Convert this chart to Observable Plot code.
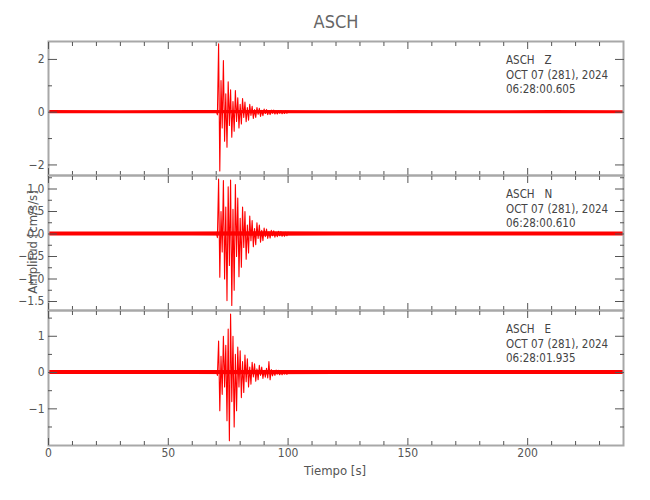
<!DOCTYPE html>
<html><head><meta charset="utf-8">
<script src="https://cdn.jsdelivr.net/npm/d3@7"></script>
<script src="https://cdn.jsdelivr.net/npm/@observablehq/plot@0.6"></script>
<style>
body{margin:0;background:#fff;}
#chart{position:relative;width:650px;height:500px;font-family:"DejaVu Sans Condensed","DejaVu Sans",sans-serif;font-stretch:condensed;color:#555;}
#chart svg{position:absolute;left:0;overflow:visible;}
#chart svg text{font-stretch:condensed;}
.lbl{position:absolute;white-space:nowrap;line-height:1;}
</style></head><body><div id="chart"></div>
<script>
// ---- data ----
const title = "ASCH";
const xLabel = "Tiempo [s]";
const yLabel = "Amplitud [cm/s/s]";
const timeMajor = [0, 50, 100, 150, 200];
const timeMinor = [10, 20, 30, 40, 60, 70, 80, 90, 110, 120, 130, 140, 160, 170, 180, 190, 210, 220, 230];

const components = ["Z", "N", "E"];
const dateText = "OCT 07 (281), 2024";
const startTimes = ["06:28:00.605", "06:28:00.610", "06:28:01.935"];

const yDomainZ = [-2.40, 2.68];
const yDomainN = [-1.70, 1.30];
const yDomainE = [-2.01, 1.71];
const yMajorZ = [-2, 0, 2];
const yMinorZ = [-1, 1];
const yMajorN = [-1.5, -1, -0.5, 0, 0.5, 1];
const yMinorN = [-1.25, -0.75, -0.25, 0.25, 0.75, 1.25];
const yMajorE = [-1, 0, 1];
const yMinorE = [-1.5, -0.5, 0.5, 1.5];

// background noise band (s, cm/s/s)
const noiseT   = [0, 30, 60, 90, 120, 150, 180, 210, 240];
const noiseHiZ = [0.06, 0.055, 0.06, 0.06, 0.055, 0.06, 0.055, 0.06, 0.055];
const noiseLoZ = [-0.055, -0.06, -0.055, -0.06, -0.055, -0.055, -0.06, -0.055, -0.055];
const noiseHiN = [0.045, 0.045, 0.045, 0.05, 0.045, 0.045, 0.045, 0.045, 0.045];
const noiseLoN = [-0.045, -0.045, -0.045, -0.05, -0.045, -0.045, -0.045, -0.045, -0.045];
const noiseHiE = [0.055, 0.055, 0.055, 0.06, 0.055, 0.055, 0.055, 0.055, 0.055];
const noiseLoE = [-0.055, -0.055, -0.055, -0.06, -0.055, -0.055, -0.055, -0.055, -0.055];

// event trace samples (s)
const eventT = [70.0,70.5,71.0,71.5,72.0,72.5,73.0,73.5,74.0,74.5,75.0,75.5,76.0,76.5,77.0,77.5,78.0,78.5,79.0,79.5,
  80.0,80.5,81.0,81.5,82.0,82.5,83.0,83.5,84.0,84.5,85.0,85.5,86.0,86.5,87.0,87.5,88.0,88.5,89.0,89.5,
  90.0,90.5,91.0,91.5,92.0,92.5,93.0,93.5,94.0,94.5,95.0,95.5,96.0,96.5,97.0,97.5,98.0,98.5,99.0,99.5,100.0];
const traceZ = [0.04,-0.10,2.59,-2.23,1.20,-0.60,1.96,-1.10,0.70,-1.33,1.15,-0.50,0.85,-0.95,0.40,-0.72,0.82,-0.35,0.55,-0.60,
  0.30,-0.45,0.52,-0.20,0.38,-0.36,0.18,-0.30,0.30,-0.12,0.22,-0.24,0.10,-0.20,0.18,-0.08,0.15,-0.16,0.07,-0.13,
  0.12,-0.05,0.10,-0.09,0.05,-0.09,0.08,-0.04,0.08,-0.07,0.04,-0.07,0.06,-0.04,0.06,-0.06,0.03,-0.05,0.05,-0.04,0.04];
const traceN = [0.04,-0.08,1.22,-0.96,0.50,-0.40,1.19,-1.00,0.60,-1.48,1.05,-0.70,1.20,-1.59,0.55,-1.25,1.10,-0.50,0.80,-0.95,
  0.35,-0.74,0.60,-0.30,0.50,-0.56,0.20,-0.42,0.40,-0.15,0.30,-0.28,0.12,-0.24,0.25,-0.10,0.20,-0.18,0.08,-0.15,
  0.13,-0.06,0.11,-0.10,0.05,-0.09,0.08,-0.04,0.07,-0.07,0.04,-0.06,0.06,-0.04,0.05,-0.05,0.03,-0.05,0.04,-0.04,0.04];
const traceE = [0.04,-0.08,0.87,-1.05,0.45,-0.60,1.00,-0.40,0.75,-1.33,1.20,-1.88,1.61,-0.80,1.00,-1.50,0.50,-1.05,0.70,-0.40,
  0.60,-0.69,0.30,-0.55,0.48,-0.25,0.38,-0.40,0.15,-0.32,0.28,-0.12,0.24,-0.24,0.10,-0.20,0.20,-0.08,0.15,-0.16,
  0.06,-0.13,0.12,-0.15,0.30,-0.20,0.08,-0.09,0.05,-0.08,0.07,-0.04,0.06,-0.06,0.04,-0.06,0.05,-0.04,0.05,-0.05,0.04];

// ---- drawing ----
const FONT = '"DejaVu Sans Condensed","DejaVu Sans",sans-serif';
const chart = document.getElementById("chart");
const AX = "#555", FR = "#a8a8a8";

function panel({trace, hi, lo, domain, major, minor, fmt, top, plotH, marginBottom, labels}) {
  const W = 650, mT = 5;
  const ev = eventT.map((t, i) => ({t, v: trace[i]}));
  const nz = noiseT.map((t, i) => ({t, hi: hi[i], lo: lo[i]}));
  const svg = Plot.plot({
    width: W, height: mT + plotH + marginBottom,
    marginLeft: 48, marginRight: 27, marginTop: mT, marginBottom,
    style: {background: "transparent", overflow: "visible", fontFamily: FONT, fontSize: "12px", color: AX},
    x: {domain: [0, 240], label: null},
    y: {domain, label: null},
    marks: [
      Plot.areaY(nz, {x: "t", y1: "lo", y2: "hi", fill: "#ff0000", clip: true}),
      Plot.line(ev, {x: "t", y: "v", stroke: "#ff0000", strokeWidth: 1.1, clip: true}),
      Plot.frame({stroke: FR, strokeWidth: 2}),
      Plot.axisX({anchor: "bottom", ticks: timeMajor, tickSize: -7, fill: "none", stroke: AX, label: null}),
      Plot.axisX({anchor: "bottom", ticks: timeMinor, tickSize: -4, fill: "none", stroke: AX, label: null}),
      Plot.axisX({anchor: "top", ticks: timeMajor, tickSize: -7, fill: "none", stroke: AX, label: null}),
      Plot.axisX({anchor: "top", ticks: timeMinor, tickSize: -4, fill: "none", stroke: AX, label: null}),
      labels ? Plot.axisX({anchor: "bottom", ticks: timeMajor, tickSize: 0, tickPadding: 3, tickFormat: d => String(d), fill: AX, label: null}) : null,
      Plot.axisY({anchor: "left", ticks: major, tickSize: -9, fill: "none", stroke: AX, label: null}),
      Plot.axisY({anchor: "left", ticks: minor, tickSize: -4, fill: "none", stroke: AX, label: null}),
      Plot.axisY({anchor: "right", ticks: major, tickSize: -9, fill: "none", stroke: AX, label: null}),
      Plot.axisY({anchor: "right", ticks: minor, tickSize: -4, fill: "none", stroke: AX, label: null}),
      Plot.axisY({anchor: "left", ticks: major, tickSize: 0, tickPadding: 4, tickFormat: fmt, fill: AX, label: null})
    ]
  });
  svg.style.top = (top - mT) + "px";
  chart.appendChild(svg);
}

const minusFmt = f => d => (d < 0 ? "\u2212" : "") + f(Math.abs(d));
panel({trace: traceZ, hi: noiseHiZ, lo: noiseLoZ, domain: yDomainZ, major: yMajorZ, minor: yMinorZ,
  fmt: minusFmt(d3.format("d")), top: 41, plotH: 134, marginBottom: 5});
panel({trace: traceN, hi: noiseHiN, lo: noiseLoN, domain: yDomainN, major: yMajorN, minor: yMinorN,
  fmt: minusFmt(d3.format(".1f")), top: 175, plotH: 135, marginBottom: 5});
panel({trace: traceE, hi: noiseHiE, lo: noiseLoE, domain: yDomainE, major: yMajorE, minor: yMinorE,
  fmt: minusFmt(d3.format("d")), top: 310, plotH: 135, marginBottom: 30, labels: true});

function label(text, css) {
  const d = document.createElement("div");
  d.className = "lbl";
  d.textContent = text;
  Object.assign(d.style, css);
  chart.appendChild(d);
  return d;
}
label(title, {left: "336px", top: "22px", fontSize: "18px", transform: "translate(-50%,-50%)", color: "#666"});
label(xLabel, {left: "335px", top: "470px", fontSize: "13px", transform: "translate(-50%,-50%)"});
label(yLabel, {left: "32px", top: "242px", fontSize: "13px", transform: "translate(-50%,-50%) rotate(-90deg)"});

const panelTops = [41, 175, 310];
components.forEach((c, i) => {
  const y0 = panelTops[i] + 20;
  const lines = [`ASCH\u00a0\u00a0\u00a0${c}`, dateText, startTimes[i]];
  lines.forEach((s, j) => label(s, {left: "506px", top: (y0 + j * 14.7) + "px", fontSize: "11.5px",
    transform: "translateY(-50%)", color: "#444"}));
});
</script></body></html>
